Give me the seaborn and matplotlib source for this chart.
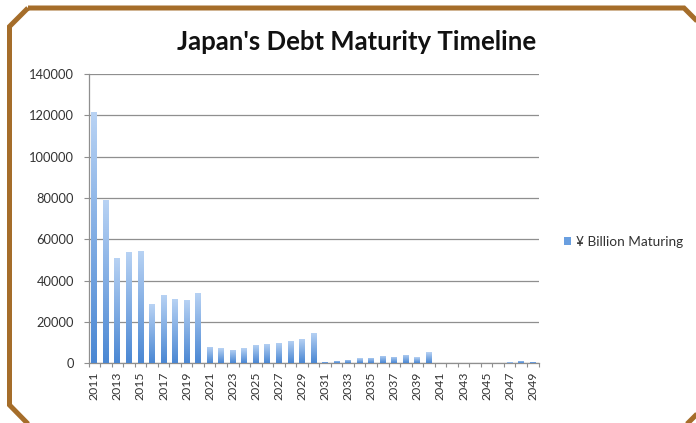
import matplotlib
matplotlib.use("Agg")
import matplotlib.pyplot as plt
from matplotlib.patches import Polygon, Patch
from matplotlib.colors import LinearSegmentedColormap
import numpy as np
import pandas as pd
import seaborn as sns

# Maturing debt by year (¥ billion)
years = [str(y) for y in range(2011, 2050)]
maturing = [
    121500, 79000, 51000, 54000, 54500, 28500, 33000, 31000, 30500, 34000,
    8000, 7200, 6600, 7200, 9000, 9300, 10000, 11000, 12000, 14800,
    800, 1300, 1700, 2400, 2700, 3500, 3200, 4000, 2900, 5300,
    150, 150, 150, 150, 150, 150, 400, 1000, 700,
]
yticks = list(range(0, 140001, 20000))
title = "Japan's Debt Maturity Timeline"
series_label = "¥ Billion Maturing"

df = pd.DataFrame({"year": years, "value": maturing})

sns.set_theme(style="white")
plt.rcParams["font.family"] = ["Lato", "DejaVu Sans"]

W, H = 696, 423
fig = plt.figure(figsize=(W / 100, H / 100), dpi=100)
fig.patch.set_facecolor("white")
ax = fig.add_axes([88.5 / W, 1 - 363.3 / H, (538.5 - 88.5) / W, (363.3 - 74) / H])

sns.barplot(data=df, x="year", y="value", color="#6a9fe0", width=0.5,
            saturation=1, ax=ax, zorder=3)

# vertical gradient fill on each bar, light at the top, deeper blue at the base
grad_cmap = LinearSegmentedColormap.from_list("bar", ["#4a87d3", "#b9d3f4"])
grad = np.linspace(0, 1, 256).reshape(-1, 1)
for p in ax.patches:
    x0, y0 = p.get_x(), p.get_y()
    w, h = p.get_width(), p.get_height()
    if h <= 0:
        continue
    p.set_edgecolor("none")
    im = ax.imshow(grad, cmap=grad_cmap, origin="lower", aspect="auto",
                   extent=[x0, x0 + w, y0, y0 + h], zorder=4)
    im.set_clip_path(p)

ax.set_xlim(-0.5, len(years) - 0.5)
ax.set_ylim(0, 140000)
ax.set_yticks(yticks)
ax.set_yticklabels([str(v) for v in yticks])
ax.set_xticks(range(0, len(years), 2))
ax.set_xticklabels(years[::2], rotation=90)
ax.set_xticks(np.arange(-0.5, len(years), 1.0), minor=True)
ax.set_xlabel("")
ax.set_ylabel("")

ax.grid(axis="y", color="#8f8f8f", linewidth=0.9, zorder=0)
ax.set_axisbelow(True)
for s in ["top", "right"]:
    ax.spines[s].set_visible(False)
for s in ["left", "bottom"]:
    ax.spines[s].set_color("#8f8f8f")
    ax.spines[s].set_linewidth(0.9)

ax.tick_params(axis="y", which="major", direction="out", length=3.5, width=0.8,
               color="#8f8f8f", labelsize=9.3, labelcolor="#333333", pad=7, left=True)
ax.tick_params(axis="x", which="major", length=0, labelsize=8.8,
               labelcolor="#333333", pad=6)
ax.tick_params(axis="x", which="minor", direction="out", length=3, width=0.8,
               color="#8f8f8f", bottom=True)

fig.text(357 / W, 1 - 42 / H, title, ha="center", va="center",
         fontsize=18.5, fontweight="bold", color="#111111")

leg = fig.legend(handles=[Patch(facecolor="#6a9fe0", edgecolor="none", label=series_label)],
                 loc="center left", bbox_to_anchor=(564 / W, 1 - 242 / H),
                 frameon=False, fontsize=9.8, handlelength=0.5, handleheight=0.5,
                 handletextpad=0.35, borderaxespad=0, borderpad=0)
for t in leg.get_texts():
    t.set_color("#333333")

# brown chamfered frame around the chart
pts = [(28, 8), (684, 8), (705, 29), (705, 406), (683, 428), (32, 428),
       (9.5, 405), (9.5, 26.5)]
frame = Polygon([(x / W, 1 - y / H) for x, y in pts], closed=True,
                transform=fig.transFigure, fill=False, edgecolor="#a56d2a",
                linewidth=3.6, joinstyle="miter", clip_on=False)
fig.patches.append(frame)

fig.savefig("out.png", dpi=100, facecolor="white")
